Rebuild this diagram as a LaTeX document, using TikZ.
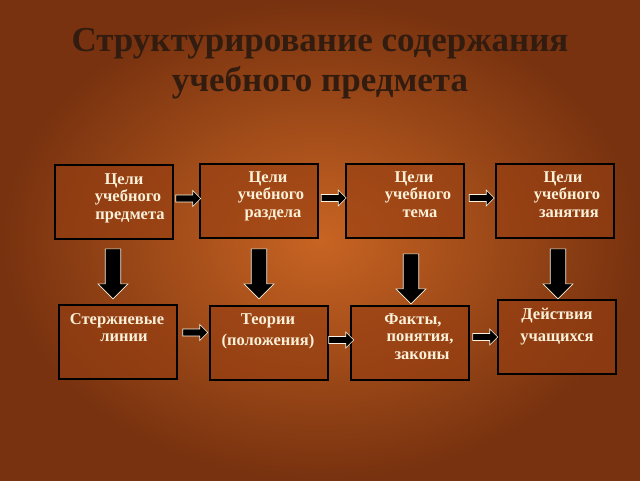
\documentclass[tikz,border=0pt]{standalone}
\usepackage{fontspec}
\setmainfont{Liberation Serif}
\usetikzlibrary{shapes.arrows,calc}
\definecolor{bgin}{RGB}{200,100,35}
\definecolor{bgout}{RGB}{120,50,15}
\definecolor{boxfill}{RGB}{150,62,18}
\definecolor{txt}{RGB}{250,240,215}
\definecolor{ttl}{RGB}{50,28,15}
\tikzset{
 box/.style={draw=black,line width=2.4pt,fill=boxfill,fill opacity=0.6,text opacity=1,minimum width=118pt,minimum height=74pt,inner sep=0pt},
 lbl/.style={text=txt,font=\bfseries\fontsize{16.5}{17.5}\selectfont,align=center,inner sep=0pt},
 rarr/.style={single arrow,draw=txt!80,fill=black,line width=0.6pt,minimum height=25pt,minimum width=16pt,single arrow head extend=3pt,inner sep=2pt},
 darr/.style={single arrow,shape border rotate=270,draw=txt!80,fill=black,line width=0.6pt,minimum height=50pt,minimum width=30pt,single arrow head extend=4pt,single arrow tip angle=90,inner sep=4pt},
}
\begin{document}
\begin{tikzpicture}[x=1pt,y=-1pt]
\shade[inner color=bgin,outer color=bgout] (0,0) rectangle (640,480);
\useasboundingbox (0,0) rectangle (640,480);
\node[text=ttl,font=\bfseries\fontsize{35}{40}\selectfont,align=center] (title) at (320,64) {Структурирование содержания\\учебного предмета};
\node[box] (b1) at (114,202) {};
\node[box] (b2) at (259,201) {};
\node[box] (b3) at (405,201) {};
\node[box] (b4) at (555,201) {};
\node[box] (b5) at (118,342) {};
\node[box] (b6) at (269,343) {};
\node[box] (b7) at (410,343) {};
\node[box] (b8) at (557,337) {};
\node[lbl,anchor=north] at (124,173) {Цели\\\hspace{8pt}учебного\\\hspace{12pt}предмета};
\node[lbl,anchor=north] at (268,171) {Цели\\\hspace{6pt}учебного\\\hspace{10pt}раздела};
\node[lbl,anchor=north] at (414,171) {Цели\\\hspace{8pt}учебного\\\hspace{12pt}тема};
\node[lbl,anchor=north] at (563,171) {Цели\\\hspace{8pt}учебного\\\hspace{12pt}занятия};
\node[lbl,anchor=north] at (117,313) {Стержневые\\\hspace{14pt}линии};
\node[lbl,anchor=north,align=center] at (268,313) {Теории\\[4pt](положения)};
\node[lbl,anchor=north] at (413,313) {Факты,\\\hspace{14pt}понятия,\\\hspace{18pt}законы};
\node[lbl,anchor=north] at (557,308) {Действия\\[4pt]учащихся};
\node[rarr] (r1) at ($(b1.east)!0.5!(b2.west)+(0,-3)$) {};
\node[rarr] (r2) at ($(b2.east)!0.5!(b3.west)+(0,-3)$) {};
\node[rarr] (r3) at ($(b3.east)!0.5!(b4.west)+(0,-3)$) {};
\node[rarr] (r4) at ($(b5.east)!0.5!(b6.west)+(0,-10)$) {};
\node[rarr] (r5) at ($(b6.east)!0.5!(b7.west)+(0,-3)$) {};
\node[rarr] (r6) at ($(b7.east)!0.5!(b8.west)+(0,-3)$) {};
\node[darr] (d1) at (113,270) {};
\node[darr] (d2) at (259,270) {};
\node[darr] (d3) at (411,275) {};
\node[darr] (d4) at (558,270) {};
\end{tikzpicture}
\end{document}
